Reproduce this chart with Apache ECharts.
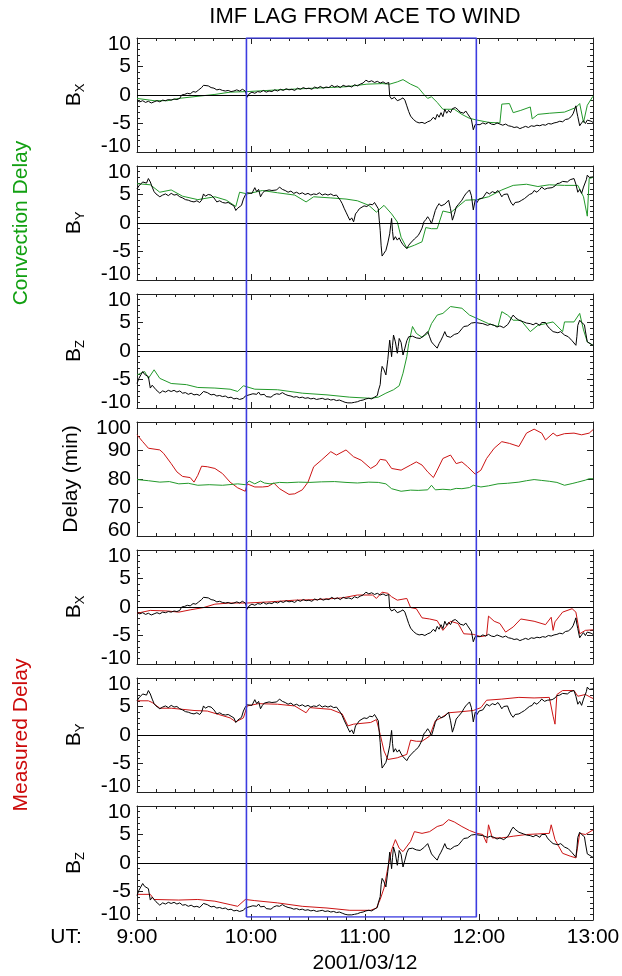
<!DOCTYPE html>
<html><head><meta charset="utf-8">
<script src="https://cdn.jsdelivr.net/npm/echarts@6/dist/echarts.min.js"></script>
<style>html,body{margin:0;padding:0;background:#fff}#c{width:622px;height:976px}</style>
</head><body><div id="c"></div>
<script>
// ---- tick labels / categories ----
const utLabels = ['9:00', '10:00', '11:00', '12:00', '13:00']; // minutes 0..240 from 9:00
const dateLabel = '2001/03/12';
const titleText = 'IMF LAG FROM ACE TO WIND';
// blue box: start / end time (minutes after 9:00)
const boxTimes = [57.6, 178.6];

// ---- WIND observed (black) [minute, nT] ----
const windBx = [[0,-1.0],[1.5,-1.2],[3,-1.0],[4.5,-1.3],[6,-1.1],[7.5,-1.4],[9,-1.2],[10.5,-1.0],[12,-1.2],[13.5,-0.9],[15,-1.0],[16.5,-0.8],[18,-0.9],[19.5,-0.7],[21,-0.8],[22.5,-0.6],[23.5,0.0],[25,0.1],[26.5,0.3],[28,0.2],[29.5,0.6],[31,0.5],[32.5,0.9],[34,1.3],[35,1.7],[36,1.5],[37.5,1.6],[39,1.3],[40.5,1.2],[42,0.9],[43.5,1.0],[45,0.8],[46.5,0.7],[48,0.8],[49.5,0.6],[51,0.7],[52.5,0.9],[54,0.7],[55.5,1.0],[57,0.7],[58,-0.4],[59,0.2],[60.5,0.5],[62,0.3],[63.5,0.6],[65,0.5],[66.5,0.8],[68,0.5],[69.5,0.7],[71,0.6],[72.5,0.9],[74,0.7],[75.5,1.0],[77,0.8],[78.5,1.1],[80,0.9],[81.5,1.0],[83,0.8],[84.5,1.2],[86,1.0],[87.5,1.3],[89,1.1],[90.5,1.2],[92,1.0],[93.5,1.4],[95,1.2],[96.5,1.5],[98,1.2],[99.5,1.4],[101,1.3],[102.5,1.7],[104,1.4],[105.5,1.6],[107,1.3],[108.5,1.7],[110,1.5],[111.5,1.6],[113,1.4],[114.5,1.8],[116,1.6],[117.5,1.9],[119,2.1],[120.5,2.6],[122,2.3],[123.5,2.5],[125,2.2],[126.5,2.4],[128,2.1],[129.5,2.3],[131,2.0],[132.5,2.2],[133,-0.2],[134,-0.7],[135.5,-0.4],[137,-1.0],[138.5,-0.8],[140,-0.5],[141,-0.9],[142,-1.9],[143,-2.9],[144,-3.7],[145.5,-4.3],[147,-4.7],[148.5,-4.9],[150,-4.8],[151.5,-5.0],[153,-4.7],[154.5,-4.5],[156,-3.9],[157,-4.3],[158,-3.4],[159,-3.9],[160,-3.1],[161,-3.8],[162,-2.5],[163,-3.2],[164,-2.7],[165,-3.1],[166,-2.4],[167.5,-2.2],[169,-2.6],[170,-3.0],[171,-2.7],[172,-3.2],[173,-2.8],[174,-3.3],[175,-3.5],[176,-4.3],[177,-6.1],[178,-5.2],[179,-4.9],[180.5,-5.2],[182,-4.9],[183.5,-5.1],[185,-4.8],[186.5,-5.1],[188,-5.2],[189.5,-4.9],[191,-5.1],[192.5,-5.3],[194,-5.1],[195.5,-5.4],[197,-5.5],[198.5,-5.7],[200,-5.6],[201.5,-5.9],[203,-5.7],[204.5,-5.5],[206,-5.7],[207.5,-5.4],[209,-5.5],[210.5,-5.3],[212,-5.4],[213.5,-5.2],[215,-5.3],[216.5,-5.0],[218,-5.1],[219.5,-4.9],[221,-4.8],[222.5,-4.6],[224,-4.7],[225.5,-4.3],[227,-4.2],[228.5,-3.8],[229.5,-3.3],[230.5,-2.4],[231,-1.9],[231.5,-3.0],[232,-3.8],[233,-5.4],[234,-4.9],[235,-4.5],[236,-5.0],[237,-4.4],[238,-4.3],[239,-4.6],[240,-4.8]];
const windBy = [[0,6.0],[1,6.5],[2,6.3],[3,7.2],[4,7.4],[5,7.0],[6,7.8],[7,7.2],[8,6.3],[9,5.5],[10,5.1],[11,4.8],[12,4.6],[13.5,4.9],[15,5.1],[16.5,4.8],[18,5.2],[19.5,4.9],[21,5.0],[22.5,4.6],[24,4.4],[25.5,4.1],[27,4.0],[28.5,3.8],[30,3.7],[31.5,3.9],[33,3.6],[34,4.0],[35,5.1],[36,4.7],[37.5,5.0],[39,4.9],[40.5,4.4],[42,3.7],[43.5,3.9],[45,3.6],[46.5,3.5],[48,3.6],[49.5,3.3],[51,3.0],[52,2.2],[53,2.6],[54,2.9],[55,3.1],[56,4.2],[57,4.9],[58,5.3],[59,5.6],[60.5,5.2],[62,6.2],[63,5.5],[64,5.9],[65,4.6],[66,5.2],[67,5.6],[68,5.4],[69.5,5.8],[71,5.7],[72,6.0],[73.5,5.8],[75,6.3],[76.5,5.9],[78,5.7],[79.5,5.4],[81,5.6],[82.5,5.2],[84,5.4],[85.5,5.1],[87,5.3],[88.5,5.0],[90,5.2],[91.5,4.9],[93,5.1],[94.5,5.0],[96,5.3],[97.5,4.9],[99,5.1],[100.5,4.9],[102,5.1],[103.5,4.8],[105,4.9],[106,4.6],[107,4.0],[108,3.4],[109,2.6],[110,1.9],[111,1.2],[112,0.5],[113,0.9],[114,0.2],[115,1.6],[116,2.0],[117,2.5],[118,2.7],[119.5,3.0],[121,2.9],[122.5,3.3],[124,3.2],[125,3.6],[126,3.5],[127,2.5],[127.5,0.5],[128,-1.3],[128.5,-4.0],[129,-5.8],[130,-5.3],[131,-4.8],[132,-3.5],[133,-1.9],[133.5,-0.5],[134,0.8],[134.5,-1.5],[135,-3.0],[136,-2.4],[137,-3.0],[138,-2.6],[139,-3.3],[140,-3.8],[141,-4.0],[142,-4.5],[143,-3.9],[144,-3.5],[145,-3.3],[146,-2.8],[147,-2.6],[148,-2.2],[149,-1.6],[150,-0.9],[151,0.2],[152,0.6],[153,1.1],[154,0.6],[155,-0.1],[156,1.0],[157,2.2],[158,2.9],[159,3.4],[160,3.0],[161,2.8],[162,3.3],[163,3.6],[164,4.0],[165,2.5],[166,0.5],[167,1.5],[168,2.8],[169,3.2],[170,3.5],[171,4.0],[172,4.6],[173,5.1],[174,5.4],[175,5.8],[176,4.8],[177,2.3],[178,4.0],[179,3.6],[180,4.2],[181,4.0],[182,4.4],[183,4.9],[184,5.4],[185.5,5.1],[187,5.5],[188.5,5.3],[190,5.7],[191,5.2],[192,4.6],[193,5.0],[194,5.3],[195,5.1],[196,4.2],[197,3.5],[198,3.1],[199,3.6],[200,3.3],[201,3.7],[202.5,4.0],[204,4.3],[205,4.6],[206.5,5.0],[208,5.2],[209,5.7],[210.5,5.4],[212,5.9],[213,6.3],[214.5,5.9],[216,6.1],[217,5.8],[218.5,6.2],[220,6.5],[221,6.9],[222.5,7.0],[224,7.3],[225,7.5],[226.5,7.2],[228,7.6],[229,7.9],[230,7.8],[231,6.8],[232,5.4],[233,5.9],[234,5.2],[235,6.3],[236,6.0],[236.5,7.6],[237,8.4],[238,8.0],[239,8.2],[240,8.1]];
const windBz = [[0,-5.7],[1,-4.8],[2,-4.2],[3,-3.6],[4,-4.1],[5,-3.9],[6,-4.5],[7,-6.5],[8,-6.0],[9,-6.2],[10,-6.8],[11,-7.1],[12,-7.4],[13.5,-7.0],[15,-7.2],[16.5,-6.9],[18,-7.1],[19.5,-6.9],[21,-7.2],[22.5,-7.0],[24,-7.4],[25.5,-7.3],[27,-7.6],[28.5,-7.4],[30,-7.7],[31.5,-7.6],[33,-7.8],[34,-7.5],[35,-7.1],[36,-6.8],[37,-7.3],[38,-7.6],[39,-7.7],[40.5,-7.6],[42,-7.9],[43.5,-7.8],[45,-8.0],[46.5,-7.9],[48,-8.2],[49.5,-8.1],[51,-8.4],[52.5,-8.3],[54,-8.5],[55,-8.2],[56,-8.3],[57,-7.9],[58,-8.2],[59,-7.7],[60,-7.9],[61,-7.5],[62,-7.3],[63,-7.6],[64,-7.2],[65,-7.7],[66,-7.9],[67,-7.6],[68,-8.0],[69,-7.8],[70.5,-8.1],[72,-7.7],[73.5,-7.5],[75,-7.6],[76.5,-7.3],[78,-7.6],[79.5,-7.8],[81,-7.9],[82.5,-8.1],[84,-8.0],[85.5,-8.2],[87,-8.1],[88.5,-8.3],[90,-8.2],[91.5,-8.4],[93,-8.3],[94.5,-8.5],[96,-8.4],[97.5,-8.3],[99,-8.5],[100.5,-8.4],[102,-8.6],[103.5,-8.5],[105,-8.7],[106.5,-8.6],[108,-8.8],[109.5,-9.0],[111,-9.1],[112,-9.3],[113,-9.1],[114.5,-9.0],[116,-8.9],[117.5,-8.7],[119,-8.6],[120.5,-8.4],[122,-8.3],[123.5,-8.4],[125,-8.1],[126,-8.0],[126.5,-7.8],[127,-7.0],[128,-5.9],[128.5,-3.8],[129,-2.7],[130,-3.3],[131,-4.2],[132,-1.5],[133,1.9],[133.5,0.5],[134,-1.0],[134.5,1.0],[135,2.8],[136,1.6],[137,-0.4],[137.5,0.8],[138,2.2],[139,1.5],[140,-0.7],[141,0.5],[142,1.8],[143,2.5],[144,2.2],[145,2.6],[146,2.5],[147,2.3],[148,2.6],[149,2.2],[150,2.4],[151,2.7],[152,3.0],[153,3.4],[154,2.5],[155,1.6],[156,1.2],[157,1.5],[158,0.5],[159,1.3],[160,1.9],[161,2.6],[162,3.4],[163,2.6],[164,2.8],[165,2.4],[166,2.2],[167,2.9],[168,2.6],[169,3.1],[170,3.5],[171,3.9],[172,4.3],[173,4.6],[174,4.4],[175,4.7],[176,4.9],[177,4.7],[178,5.0],[179,5.1],[180,4.9],[181,5.2],[182,4.8],[183,4.8],[184.5,4.5],[186,4.7],[187,4.4],[188,4.5],[189.5,4.2],[191,4.4],[192,4.3],[193,4.1],[194,4.3],[195,4.6],[196,5.1],[197,5.8],[198,6.3],[199,5.9],[200,5.6],[201,5.4],[202,5.4],[203.5,5.1],[205,4.9],[206,5.2],[207,4.8],[208.5,4.6],[210,4.9],[211,4.8],[212,4.5],[213,5.0],[214,4.7],[215,5.0],[216,4.4],[217,4.0],[218,3.7],[219,3.4],[220,3.6],[221.5,3.2],[223,3.4],[224,3.1],[225,2.8],[226,3.0],[227,2.5],[228,2.2],[229,1.8],[230,1.5],[231,1.0],[231.5,2.5],[232,4.5],[233,5.4],[234,5.0],[235,5.1],[235.5,4.6],[236,3.5],[237,1.6],[238,1.4],[239,1.2],[240,1.0]];

// ---- ACE lagged by convection delay (green) ----
const convBx = [[0,-0.6],[9,-1.0],[16,-1.0],[22,-0.6],[30,-0.3],[41,0.1],[49,0.5],[58,0.6],[66,0.75],[74,0.9],[87,1.1],[100,1.3],[110,1.45],[121,1.9],[129,2.0],[133,1.9],[137,2.3],[140,2.7],[144,1.9],[148,1.3],[151,0.1],[153,-0.6],[155,-0.3],[158,-1.3],[161,-2.5],[167,-2.5],[171,-3.4],[175,-4.1],[179,-4.4],[185,-4.8],[191,-4.9],[192,-1.6],[196,-1.5],[198,-3.1],[202,-2.7],[207,-2.1],[208,-4.2],[211,-3.4],[217,-3.2],[225,-3.0],[231,-2.2],[233,-1.5],[235,-4.8],[237,-1.8],[240,-0.2]];
const convBy = [[0,6.9],[7,6.7],[12,5.4],[18,5.8],[24,4.7],[32,4.1],[41,4.6],[47,4.0],[52,2.9],[54,5.4],[58,5.1],[66,5.7],[74,5.3],[83,4.9],[89,3.7],[93,4.6],[102,4.4],[110,4.2],[116,3.9],[122,3.1],[126,1.9],[130,3.1],[134,1.6],[137,0.2],[139,-2.5],[142,-4.4],[146,-3.9],[150,-3.3],[152,-0.8],[155,-1.0],[158,-1.0],[161,2.1],[165,1.8],[169,2.9],[173,4.0],[179,4.1],[185,4.6],[192,5.8],[198,6.6],[205,6.8],[211,6.4],[217,6.7],[225,6.6],[232,6.6],[235,4.6],[237,1.2],[238,7.8],[240,8.0]];
const convBz = [[0,-4.2],[4,-3.6],[6,-4.8],[9,-3.3],[12,-4.8],[18,-5.7],[26,-5.9],[32,-6.4],[41,-6.5],[49,-6.7],[53,-7.1],[56,-6.1],[62,-6.7],[74,-6.8],[87,-7.4],[100,-7.7],[112,-8.1],[123,-8.3],[127,-8.1],[131,-7.4],[135,-6.8],[138,-6.1],[140,-3.9],[142,-1.0],[143,1.3],[144,2.8],[145,4.3],[147,3.1],[150,2.4],[153,3.1],[155,4.8],[158,6.3],[161,6.6],[165,7.8],[171,7.5],[175,6.3],[179,5.7],[185,4.8],[190,4.3],[192,6.9],[195,6.3],[198,5.4],[202,5.4],[207,3.4],[211,4.5],[215,4.8],[219,5.1],[224,3.4],[225,5.1],[230,5.1],[233,6.6],[235,3.7],[237,1.6],[240,1.0]];

// ---- delays (minutes) ----
const measDelay = [[0,95.5],[3,93.1],[6,90.8],[12,90.2],[14,89.0],[18,85.4],[21,82.5],[24,80.9],[28,80.5],[30,78.9],[32,81.3],[34,84.5],[37,84.3],[41,83.7],[45,81.9],[49,78.9],[53,76.9],[57,75.7],[58,78.3],[62,77.2],[66,77.2],[69,77.4],[72,78.6],[75,76.6],[80,74.6],[83,74.8],[87,76.2],[90,78.9],[93,84.3],[97,86.6],[102,89.6],[105,88.4],[110,90.2],[114,87.8],[118,86.6],[123,83.7],[126,84.9],[128,86.9],[131,86.6],[134,83.7],[139,83.1],[144,84.9],[147,86.0],[150,84.9],[153,82.5],[156,80.5],[158,83.1],[161,87.2],[165,88.4],[168,85.4],[171,86.0],[174,84.3],[178,81.7],[181,83.1],[184,87.2],[188,90.8],[192,93.1],[196,92.5],[201,91.4],[205,96.1],[209,97.5],[213,96.1],[215,93.7],[219,96.1],[221,95.1],[225,95.9],[230,96.1],[234,95.5],[238,96.1],[240,97.3]];
const convDelay = [[0,79.8],[6,79.4],[12,78.9],[17,79.1],[22,78.3],[27,78.5],[32,77.8],[38,78.0],[45,77.8],[50,78.1],[53,78.3],[57,78.0],[59,79.3],[62,78.3],[65,79.3],[67,78.6],[70,78.3],[75,78.8],[79,78.7],[85,78.9],[91,78.8],[97,79.0],[104,79.1],[110,78.8],[116,78.6],[122,78.9],[127,78.8],[131,78.3],[134,76.6],[139,75.7],[144,76.1],[148,76.0],[153,76.2],[155,77.8],[157,76.2],[161,76.4],[165,76.2],[168,76.7],[171,76.6],[175,77.0],[177,77.8],[181,77.2],[185,77.6],[190,78.3],[195,78.5],[201,78.9],[205,79.4],[209,79.8],[213,79.5],[217,79.2],[221,78.8],[225,77.8],[229,78.4],[232,78.9],[236,79.6],[238,80.1],[240,80.1]];

// ---- ACE lagged by measured delay (red) ----
const measBx = [[0,-1.1],[7,-0.6],[16,-0.7],[22,-0.9],[28,-0.5],[35,-0.1],[41,0.5],[49,0.7],[58,0.7],[70,0.9],[83,1.2],[95,1.3],[108,1.6],[116,2.1],[124,2.1],[126,1.5],[129,2.6],[132,2.4],[134,1.8],[137,1.2],[142,1.5],[144,-0.1],[147,-0.3],[150,-1.9],[154,-2.1],[158,-2.4],[161,-4.1],[165,-2.5],[169,-2.9],[172,-4.7],[177,-4.8],[181,-5.2],[184,-5.0],[185,-1.6],[188,-2.5],[191,-2.9],[194,-4.4],[198,-3.5],[202,-2.1],[209,-2.5],[215,-3.1],[218,-1.8],[219,-4.1],[220,-2.6],[224,-0.9],[229,-0.3],[231,-0.9],[233,-4.7],[236,-4.1],[240,-4.0]];
const measBy = [[0,6.0],[6,6.0],[8,5.7],[12,4.7],[18,4.7],[24,4.5],[30,4.3],[37,4.2],[43,3.6],[49,3.0],[52,2.3],[56,3.0],[58,5.1],[64,5.5],[74,5.4],[83,5.1],[89,3.9],[91,4.8],[102,4.5],[108,3.7],[111,1.6],[114,1.9],[123,2.2],[126,2.7],[128,0.1],[130,-2.8],[132,-4.3],[137,-4.0],[142,-3.4],[144,-0.9],[147,-1.1],[150,-1.1],[154,-0.2],[157,2.5],[160,3.0],[164,3.9],[171,4.1],[177,4.3],[181,4.8],[184,6.1],[192,6.3],[201,6.6],[209,6.5],[217,6.6],[219,3.3],[220,1.9],[221,7.1],[224,7.8],[230,7.8],[232,6.8],[236,7.1],[240,6.4]];
const measBz = [[0,-5.5],[7,-5.5],[9,-6.4],[22,-6.5],[32,-6.4],[41,-6.7],[49,-7.3],[53,-7.6],[57,-6.4],[62,-6.6],[74,-7.0],[87,-7.6],[100,-7.9],[112,-8.3],[123,-8.3],[126,-7.9],[128,-6.4],[130,-4.4],[132,-0.9],[134,2.3],[136,4.1],[138,2.6],[140,2.0],[144,3.8],[146,5.5],[150,5.2],[154,5.5],[158,6.4],[161,6.7],[164,7.6],[167,7.2],[171,6.4],[175,5.7],[179,5.2],[182,5.0],[184,3.5],[185,6.7],[187,4.4],[192,4.4],[198,4.7],[205,5.0],[211,5.1],[217,5.2],[218,6.7],[220,4.1],[224,1.7],[228,1.2],[231,0.9],[233,5.2],[236,5.0],[240,5.8]];

// ---- styling / layout ----
const FONT = '"Liberation Sans", Arial, Helvetica, sans-serif';
const GREEN = '#22992a', RED = '#cc1414', BLUE = '#3c3ce0', FRAME = '#222';
const tops = [38, 166, 294, 422, 550, 678, 806];
const PL = 137, PW = 456, PH = 114;

const panels = [
  {sub: 'X', black: windBx, other: convBx, color: GREEN},
  {sub: 'Y', black: windBy, other: convBy, color: GREEN},
  {sub: 'Z', black: windBz, other: convBz, color: GREEN},
  {delay: true},
  {sub: 'X', black: windBx, other: measBx, color: RED},
  {sub: 'Y', black: windBy, other: measBy, color: RED},
  {sub: 'Z', black: windBz, other: measBz, color: RED}
];

const grids = [], xAxes = [], yAxes = [], series = [];
const tickStyle = {color: FRAME, width: 1};

panels.forEach((p, i) => {
  grids.push({left: PL, top: tops[i], width: PW, height: PH, outerBoundsMode: 'none'});
  const last = i === panels.length - 1;
  const xBase = {
    gridIndex: i, type: 'value', min: 0, max: 240, interval: 60,
    axisLine: {show: true, onZero: false, lineStyle: {color: FRAME, width: 1}},
    axisTick: {show: true, inside: true, length: 6, lineStyle: tickStyle},
    minorTick: {show: true, splitNumber: 6, length: 3, lineStyle: tickStyle},
    splitLine: {show: false}, minorSplitLine: {show: false}
  };
  xAxes.push(Object.assign({}, xBase, {
    position: 'bottom',
    axisLabel: last ? {show: true, margin: 7, fontSize: 21, fontFamily: FONT, color: '#000',
      showMinLabel: true, showMaxLabel: true, hideOverlap: false,
      formatter: v => utLabels[Math.round(v / 60)]} : {show: false},
    name: last ? dateLabel : '', nameLocation: 'middle', nameGap: 33,
    nameTextStyle: {fontSize: 21, fontFamily: FONT, color: '#000'}
  }));
  xAxes.push(Object.assign({}, xBase, {position: 'top', axisLabel: {show: false}}));

  const yRange = p.delay ? {min: 60, max: 100, interval: 10, minorTick: {show: true, splitNumber: 2, length: 3, lineStyle: tickStyle}}
                         : {min: -10, max: 10, interval: 5, minorTick: {show: true, splitNumber: 5, length: 3, lineStyle: tickStyle}};
  const yBase = Object.assign({
    gridIndex: i, type: 'value',
    axisLine: {show: true, onZero: false, lineStyle: {color: FRAME, width: 1}},
    axisTick: {show: true, inside: true, length: 6, lineStyle: tickStyle},
    splitLine: {show: false}, minorSplitLine: {show: false}
  }, yRange);
  yAxes.push(Object.assign({}, yBase, {
    position: 'left',
    axisLabel: {show: true, margin: 6, fontSize: 21, lineHeight: 12, fontFamily: FONT, color: '#000',
      showMinLabel: true, showMaxLabel: true, hideOverlap: false,
      verticalAlignMinLabel: 'bottom', verticalAlignMaxLabel: 'top'},
    name: p.delay ? 'Delay (min)' : '{b|B}{s|' + p.sub + '}',
    nameLocation: 'middle', nameRotate: 90, nameGap: p.delay ? 55 : 50,
    nameTextStyle: {fontSize: 21, fontFamily: FONT, color: '#000',
      rich: {b: {fontSize: 21, fontFamily: FONT, color: '#000'},
             s: {fontSize: 13, fontFamily: FONT, color: '#000', padding: [12, 0, 0, 0]}}}
  }));
  yAxes.push(Object.assign({}, yBase, {position: 'right', axisLabel: {show: false}}));

  const xi = 2 * i, yi = 2 * i;
  if (p.delay) {
    series.push({type: 'line', xAxisIndex: xi, yAxisIndex: yi, data: measDelay, showSymbol: false,
      lineStyle: {color: RED, width: 1}, animation: false, silent: true});
    series.push({type: 'line', xAxisIndex: xi, yAxisIndex: yi, data: convDelay, showSymbol: false,
      lineStyle: {color: GREEN, width: 1}, animation: false, silent: true});
  } else {
    series.push({type: 'line', xAxisIndex: xi, yAxisIndex: yi, data: p.other, showSymbol: false,
      lineStyle: {color: p.color, width: 1}, animation: false, silent: true});
    series.push({type: 'line', xAxisIndex: xi, yAxisIndex: yi, data: p.black, showSymbol: false,
      lineStyle: {color: '#000', width: 1}, animation: false, silent: true,
      markLine: {silent: true, symbol: 'none', animation: false, label: {show: false},
        lineStyle: {color: '#000', width: 1, type: 'solid'}, data: [{yAxis: 0}]}});
  }
});

// overlay grid for the blue interval box
const oi = panels.length;
grids.push({left: PL, top: tops[0], width: PW, height: 879, outerBoundsMode: 'none'});
xAxes.push({gridIndex: oi, type: 'value', min: 0, max: 240, show: false});
yAxes.push({gridIndex: oi, type: 'value', min: 0, max: 1, show: false});
series.push({type: 'line', xAxisIndex: xAxes.length - 1, yAxisIndex: yAxes.length - 1,
  data: [[boxTimes[0], 0], [boxTimes[0], 1], [boxTimes[1], 1], [boxTimes[1], 0], [boxTimes[0], 0]],
  showSymbol: false, lineStyle: {color: BLUE, width: 1.6}, animation: false, silent: true, z: 10});

const chart = echarts.init(document.getElementById('c'), null, {renderer: 'canvas'});
chart.setOption({
  backgroundColor: '#fff',
  animation: false,
  grid: grids, xAxis: xAxes, yAxis: yAxes, series: series,
  graphic: [
    {type: 'text', x: 365, y: 17, style: {text: titleText, fill: '#000', fontSize: 22, fontFamily: FONT,
      align: 'center', verticalAlign: 'middle', textAlign: 'center', textVerticalAlign: 'middle'}},
    {type: 'text', x: 66, y: 937, style: {text: 'UT:', fill: '#000', fontSize: 21, fontFamily: FONT,
      align: 'center', verticalAlign: 'middle', textAlign: 'center', textVerticalAlign: 'middle'}},
    {type: 'text', x: 21, y: 223, rotation: Math.PI / 2, style: {text: 'Convection Delay', fill: '#12a012',
      fontSize: 21, fontFamily: FONT, align: 'center', verticalAlign: 'middle', textAlign: 'center', textVerticalAlign: 'middle'}},
    {type: 'text', x: 21, y: 735, rotation: Math.PI / 2, style: {text: 'Measured Delay', fill: '#cc0a0a',
      fontSize: 21, fontFamily: FONT, align: 'center', verticalAlign: 'middle', textAlign: 'center', textVerticalAlign: 'middle'}}
  ]
});
</script>
</body></html>
